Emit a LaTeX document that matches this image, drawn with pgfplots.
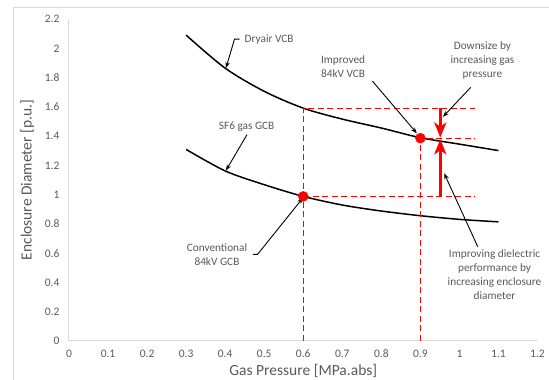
\documentclass[border=0pt]{standalone}
\usepackage{pgfplots}
\pgfplotsset{compat=1.18}
\usepackage{fontspec}
\setmainfont{Carlito}
\usetikzlibrary{arrows.meta}
\definecolor{txt}{RGB}{89,89,89}
\definecolor{axgray}{RGB}{217,217,217}
\begin{document}
\begin{tikzpicture}[x=1pt,y=1pt]
\useasboundingbox (0,0) rectangle (549,380);
\draw[axgray, line width=1pt] (13,-20) rectangle (580,372);
\begin{axis}[
  at={(69pt,39pt)}, anchor=south west,
  width=468.5pt, height=322pt, scale only axis,
  xmin=0, xmax=1.2, ymin=0, ymax=2.2,
  axis x line=bottom, axis y line=left,
  axis line style={axgray, line width=1pt, -},
  major tick length=0pt,
  xtick={0,0.1,0.2,0.3,0.4,0.5,0.6,0.7,0.8,0.9,1,1.1,1.2},
  xticklabels={0,0.1,0.2,0.3,0.4,0.5,0.6,0.7,0.8,0.9,1,1.1,1.2},
  ytick={0,0.2,0.4,0.6,0.8,1,1.2,1.4,1.6,1.8,2,2.2},
  yticklabels={0,0.2,0.4,0.6,0.8,1,1.2,1.4,1.6,1.8,2,2.2},
  tick label style={font=\fontsize{11.5}{14}\selectfont, text=txt},
  xticklabel style={yshift=-5.5pt},
  yticklabel style={xshift=-6pt},
  xlabel={Gas Pressure [MPa.abs]},
  ylabel={Enclosure Diameter [p.u.]},
  label style={font=\fontsize{15.5}{18}\selectfont, text=txt},
  xlabel style={at={(axis description cs:0.5,-0.094)}, anchor=center},
  ylabel style={at={(axis description cs:-0.089,0.5)}, anchor=center},
  clip=false,
]
% Dryair VCB
\addplot[black, line width=1.5pt, smooth] coordinates {
  (0.3,2.09) (0.4,1.864) (0.5,1.706) (0.6,1.591) (0.7,1.516)
  (0.8,1.455) (0.9,1.389) (1.0,1.345) (1.1,1.301)};
% SF6 gas GCB
\addplot[black, line width=1.5pt, smooth] coordinates {
  (0.3,1.309) (0.4,1.162) (0.5,1.068) (0.6,0.988) (0.7,0.929)
  (0.8,0.888) (0.9,0.856) (1.0,0.831) (1.1,0.814)};
% dashed guides
\addplot[red, line width=1.2pt, dash pattern=on 6pt off 3.5pt] coordinates {(0.6,0) (0.6,1.589) (1.04,1.589)};
\addplot[red, line width=1.2pt, dash pattern=on 6pt off 3.5pt] coordinates {(0.6,0.986) (1.04,0.986)};
\addplot[red, line width=1.2pt, dash pattern=on 6pt off 3.5pt] coordinates {(0.9,0) (0.9,1.386) (1.04,1.386)};
% thick arrows
\addplot[red, line width=3.4pt, -{Stealth[length=15pt,width=12pt,inset=4pt]}] coordinates {(0.951,1.589) (0.951,1.39)};
\addplot[red, line width=3.4pt, -{Stealth[length=15pt,width=12pt,inset=4pt]}] coordinates {(0.951,0.986) (0.951,1.378)};
% points
\addplot[only marks, mark=*, mark size=5pt, red] coordinates {(0.6,0.988) (0.9,1.386)};
% annotations
\begin{scope}[font=\fontsize{11.3}{14}\selectfont, txt]
\node[anchor=west, text=txt] at (axis cs:0.441,2.058) {Dryair VCB};
\draw[black, line width=0.9pt, -{Stealth[length=6pt,width=4.5pt]}] (axis cs:0.437,2.063) -- (axis cs:0.424,2.063) -- (axis cs:0.402,1.865);
\node[text=txt] at (axis cs:0.455,1.462) {SF6 gas GCB};
\draw[black, line width=0.9pt, -{Stealth[length=6pt,width=4.5pt]}] (axis cs:0.456,1.41) -- (axis cs:0.402,1.165);
\node[align=center, text=txt] at (axis cs:0.702,1.874) {Improved\\84kV VCB};
\draw[black, line width=0.9pt, -{Stealth[length=6pt,width=4.5pt]}] (axis cs:0.777,1.776) -- (axis cs:0.891,1.419);
\node[align=center, text=txt] at (axis cs:1.059,1.919) {Downsize by\\increasing gas\\pressure};
\draw[black, line width=0.9pt, -{Stealth[length=6pt,width=4.5pt]}] (axis cs:1.029,1.733) -- (axis cs:0.958,1.532);
\node[align=center, text=txt] at (axis cs:0.379,0.59) {Conventional\\84kV GCB};
\draw[black, line width=0.9pt, -{Stealth[length=6pt,width=4.5pt]}] (axis cs:0.471,0.592) -- (axis cs:0.483,0.592) -- (axis cs:0.599,0.977);
\node[align=center, text=txt] at (axis cs:1.09,0.456) {Improving dielectric\\performance by\\increasing enclosure\\diameter};
\draw[black, line width=0.9pt, -{Stealth[length=6pt,width=4.5pt]}] (axis cs:1.047,0.644) -- (axis cs:0.961,1.145);
\end{scope}
\end{axis}
\end{tikzpicture}
\end{document}
